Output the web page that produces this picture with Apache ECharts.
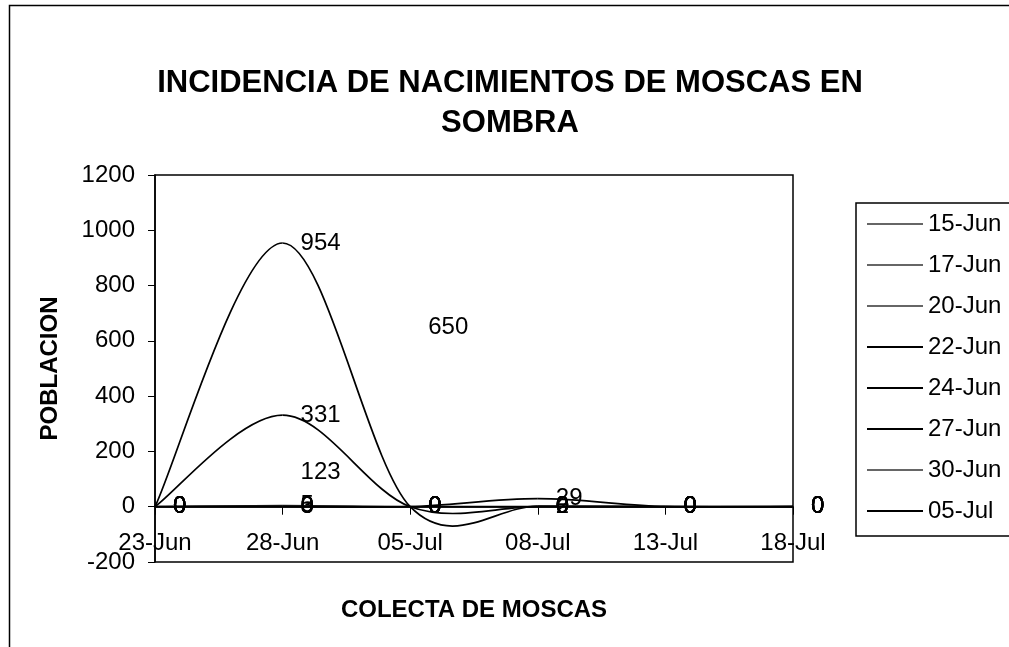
<!DOCTYPE html>
<html>
<head>
<meta charset="utf-8">
<script src="https://cdn.jsdelivr.net/npm/echarts@6/dist/echarts.min.js"></script>
<style>
html,body{margin:0;padding:0;background:#fff;}
#chart{width:1009px;height:647px;}
</style>
</head>
<body>
<div id="chart"></div>
<script>
const categories = ['23-Jun', '28-Jun', '05-Jul', '08-Jul', '13-Jul', '18-Jul'];
const seriesNames = ['15-Jun', '17-Jun', '20-Jun', '22-Jun', '24-Jun', '27-Jun', '30-Jun', '05-Jul'];
const s15Jun = [0, 123, 650, 0, 0, 0];
const s17Jun = [0, 5, 0, 0, 0, 0];
const s20Jun = [0, 3, 0, 0, 0, 0];
const s22Jun = [0, 954, 0, 2, 0, 0];
const s24Jun = [0, 331, 0, 0, 0, 0];
const s27Jun = [0, 0, 0, 29, 0, 0];
const s30Jun = [0, 0, 0, 0, 0, 0];
const s05Jul = [0, 0, 0, 0, 0, 0];
const yTicks = { min: -200, max: 1200, interval: 200 };

const seriesValues = [s15Jun, s17Jun, s20Jun, s22Jun, s24Jun, s27Jun, s30Jun, s05Jul];
// series whose lines were lost in the scan: grey in legend
const faint = [true, true, true, false, false, false, true, false];
const hiddenLine = [true, false, false, false, false, false, false, false];

const FONT = 'Liberation Sans, Arial, sans-serif';
const SMALL = 24;

const chart = echarts.init(document.getElementById('chart'), null, { renderer: 'canvas' });

function makeRenderItem(k) {
  const arr = seriesValues[k];
  const n = arr.length;
  return function (params, api) {
    const idx = params.dataIndex;
    const P = i => {
      const j = Math.max(0, Math.min(n - 1, i));
      return api.coord([j, arr[j]]);
    };
    const children = [];
    if (idx < n - 1 && !hiddenLine[k]) {
      const p0 = P(idx - 1), p1 = P(idx), p2 = P(idx + 1), p3 = P(idx + 2);
      children.push({
        type: 'bezierCurve',
        shape: {
          x1: p1[0], y1: p1[1],
          x2: p2[0], y2: p2[1],
          cpx1: p1[0] + (p2[0] - p0[0]) / 6,
          cpy1: p1[1] + (p2[1] - p0[1]) / 6,
          cpx2: p2[0] - (p3[0] - p1[0]) / 6,
          cpy2: p2[1] - (p3[1] - p1[1]) / 6
        },
        style: { stroke: faint[k] ? '#222' : '#000', lineWidth: faint[k] ? 1.2 : 1.7, fill: null }
      });
    }
    const pt = P(idx);
    children.push({
      type: 'text',
      x: pt[0] + 18,
      y: pt[1],
      style: {
        text: String(arr[idx]),
        fill: '#000',
        font: SMALL + 'px ' + FONT,
        verticalAlign: 'middle',
        align: 'left'
      }
    });
    return { type: 'group', children: children };
  };
}

const series = seriesNames.map((name, i) => ({
  name: name,
  type: 'custom',
  data: seriesValues[i].map((v, j) => [j, v]),
  encode: { x: 0, y: 1 },
  clip: false,
  itemStyle: { color: '#000' },
  renderItem: makeRenderItem(i),
  silent: true,
  animation: false
}));

const option = {
  animation: false,
  backgroundColor: '#fff',
  title: {
    text: 'INCIDENCIA DE NACIMIENTOS DE MOSCAS EN\nSOMBRA',
    left: 505,
    textAlign: 'center',
    top: 58,
    textStyle: {
      fontFamily: FONT,
      fontWeight: 'bold',
      fontSize: 31,
      lineHeight: 40,
      color: '#000'
    }
  },
  legend: {
    orient: 'vertical',
    left: 856,
    top: 203,
    padding: [9, 20, 13, 11],
    itemGap: 17,
    itemWidth: 56,
    itemHeight: 2,
    icon: 'rect',
    borderColor: '#000',
    borderWidth: 1.5,
    selectedMode: false,
    textStyle: { fontFamily: FONT, fontSize: SMALL, color: '#000', lineHeight: 24 },
    data: seriesNames.map((n, i) => ({
      name: n,
      icon: 'rect',
      itemStyle: { color: faint[i] ? '#666' : '#000', opacity: 1 }
    }))
  },
  grid: {
    left: 155,
    right: 216,
    top: 175,
    bottom: 85,
    outerBoundsMode: 'none',
    containLabel: false,
    show: true,
    borderColor: '#000',
    borderWidth: 1.5,
    backgroundColor: 'transparent'
  },
  xAxis: {
    type: 'category',
    data: categories,
    boundaryGap: false,
    name: 'COLECTA DE MOSCAS',
    nameLocation: 'middle',
    nameGap: 36,
    nameTextStyle: { fontFamily: FONT, fontWeight: 'bold', fontSize: 24, color: '#000' },
    axisLine: { onZero: true, lineStyle: { color: '#000', width: 1.5 } },
    axisTick: { show: true, length: 8, lineStyle: { color: '#000' } },
    axisLabel: {
      interval: 0,
      inside: true,
      margin: 7,
      color: '#000',
      fontFamily: FONT,
      fontSize: SMALL
    },
    splitLine: { show: false }
  },
  yAxis: {
    type: 'value',
    min: yTicks.min,
    max: yTicks.max,
    interval: yTicks.interval,
    name: 'POBLACION',
    nameLocation: 'middle',
    nameRotate: 90,
    nameGap: 93,
    nameTextStyle: { fontFamily: FONT, fontWeight: 'bold', fontSize: 24, color: '#000' },
    axisLine: { show: true, lineStyle: { color: '#000', width: 1.5 } },
    axisTick: { show: true, length: 7, lineStyle: { color: '#000' } },
    axisLabel: { margin: 20, color: '#000', fontFamily: FONT, fontSize: SMALL, formatter: v => String(v) },
    splitLine: { show: false }
  },
  graphic: [{
    type: 'rect',
    left: 7,
    top: 3,
    shape: { width: 1020, height: 660 },
    style: { fill: 'none', stroke: '#000', lineWidth: 1.5 },
    silent: true,
    z: -1
  }],
  series: series
};

chart.setOption(option);
</script>
</body>
</html>
